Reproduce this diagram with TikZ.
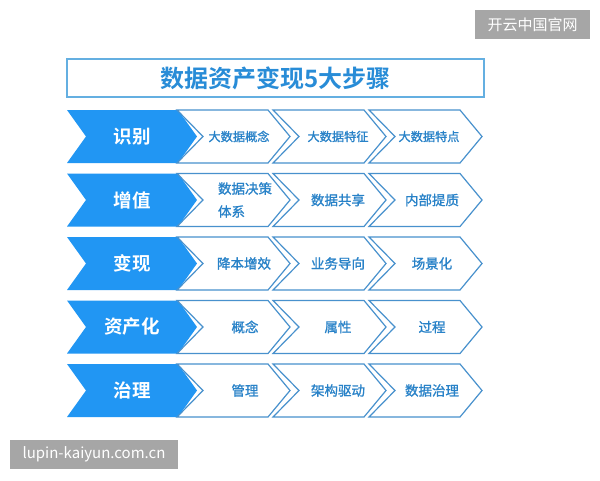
\documentclass[tikz,border=0pt]{standalone}
\usepackage{fontspec}
\newfontfamily\cjk{Noto Sans CJK SC}
\newfontfamily\cjkm[FakeBold=1.2]{Noto Sans CJK SC}
\newfontfamily\cjkb{Noto Sans CJK SC Bold}
\definecolor{mainblue}{RGB}{33,150,243}
\definecolor{edgeblue}{RGB}{72,145,205}
\definecolor{txtblue}{RGB}{40,130,200}
\definecolor{titleblue}{RGB}{40,140,215}
\definecolor{titleedge}{RGB}{100,175,225}
\definecolor{wmgray}{RGB}{166,166,166}
\tikzset{
  rowlabel/.style={text=white,font=\cjkb\fontsize{18.5}{18.5}\selectfont,inner sep=0pt},
  celltext/.style={text=txtblue,font=\cjkm\fontsize{13.5}{23}\selectfont,inner sep=0pt},
  celltextsmall/.style={text=txtblue,font=\cjkm\fontsize{12.2}{14}\selectfont,inner sep=0pt},
  whitechev/.style={draw=edgeblue,line width=1.2pt,fill=white,line join=miter},
  bluechev/.style={fill=mainblue},
  wmbox/.style={fill=wmgray,text=white,inner sep=0pt,font=\cjk\fontsize{15}{15}\selectfont},
}
\begin{document}
\begin{tikzpicture}[x=1pt,y=-1pt]
\useasboundingbox (0,0) rectangle (600,480);
\fill[white] (0,0) rectangle (600,480);
% title
\draw[titleedge,line width=2pt] (67,59) rectangle (484,97);
\node[text=titleblue,font=\cjkb\fontsize{24}{24}\selectfont,inner sep=0pt] (title) at (275.5,78) {数据资产变现5大步骤};
% rows
\foreach \i in {0,...,4}{
  \pgfmathsetmacro{\t}{110+63.5*\i}
  \pgfmathsetmacro{\m}{\t+26.5}
  \pgfmathsetmacro{\b}{\t+53}
  \fill[bluechev] (67,\t) -- (178,\t) -- (197,\m) -- (178,\b) -- (67,\b) -- (86,\m) -- cycle;
  \foreach \j in {0,1,2}{
    \pgfmathsetmacro{\L}{177+96*\j}
    \draw[whitechev] (\L,\t) -- (\L+91,\t) -- (\L+113,\m) -- (\L+91,\b) -- (\L,\b) -- (\L+26,\m) -- cycle;
  }
}
% row labels
\node[rowlabel] (r1) at (132,136.5) {识别};
\node[rowlabel] (r2) at (132,200) {增值};
\node[rowlabel] (r3) at (132,263.5) {变现};
\node[rowlabel] (r4) at (132,327) {资产化};
\node[rowlabel] (r5) at (132,390.5) {治理};
% row 1
\node[celltextsmall] (c11) at (239,136.5) {大数据概念};
\node[celltextsmall] (c12) at (338,136.5) {大数据特征};
\node[celltextsmall] (c13) at (429,136.5) {大数据特点};
% row 2
\node[celltext,align=left] (c21) at (245,200) {数据决策\\体系};
\node[celltext] (c22) at (338,200) {数据共享};
\node[celltext] (c23) at (432,200) {内部提质};
% row 3
\node[celltext] (c31) at (244,263.5) {降本增效};
\node[celltext] (c32) at (338,263.5) {业务导向};
\node[celltext] (c33) at (432,263.5) {场景化};
% row 4
\node[celltext] (c41) at (245,327) {概念};
\node[celltext] (c42) at (338,327) {属性};
\node[celltext] (c43) at (432,327) {过程};
% row 5
\node[celltext] (c51) at (245,390.5) {管理};
\node[celltext] (c52) at (338,390.5) {架构驱动};
\node[celltext] (c53) at (432,390.5) {数据治理};
% watermarks
\fill[wmgray] (475,10) rectangle (590,39);
\node[wmbox] (wm1) at (532.5,24.5) {开云中国官网};
\fill[wmgray] (10,440) rectangle (178,469);
\node[wmbox] (wm2) at (94,454.5) {lupin-kaiyun.com.cn};
\end{tikzpicture}
\end{document}
